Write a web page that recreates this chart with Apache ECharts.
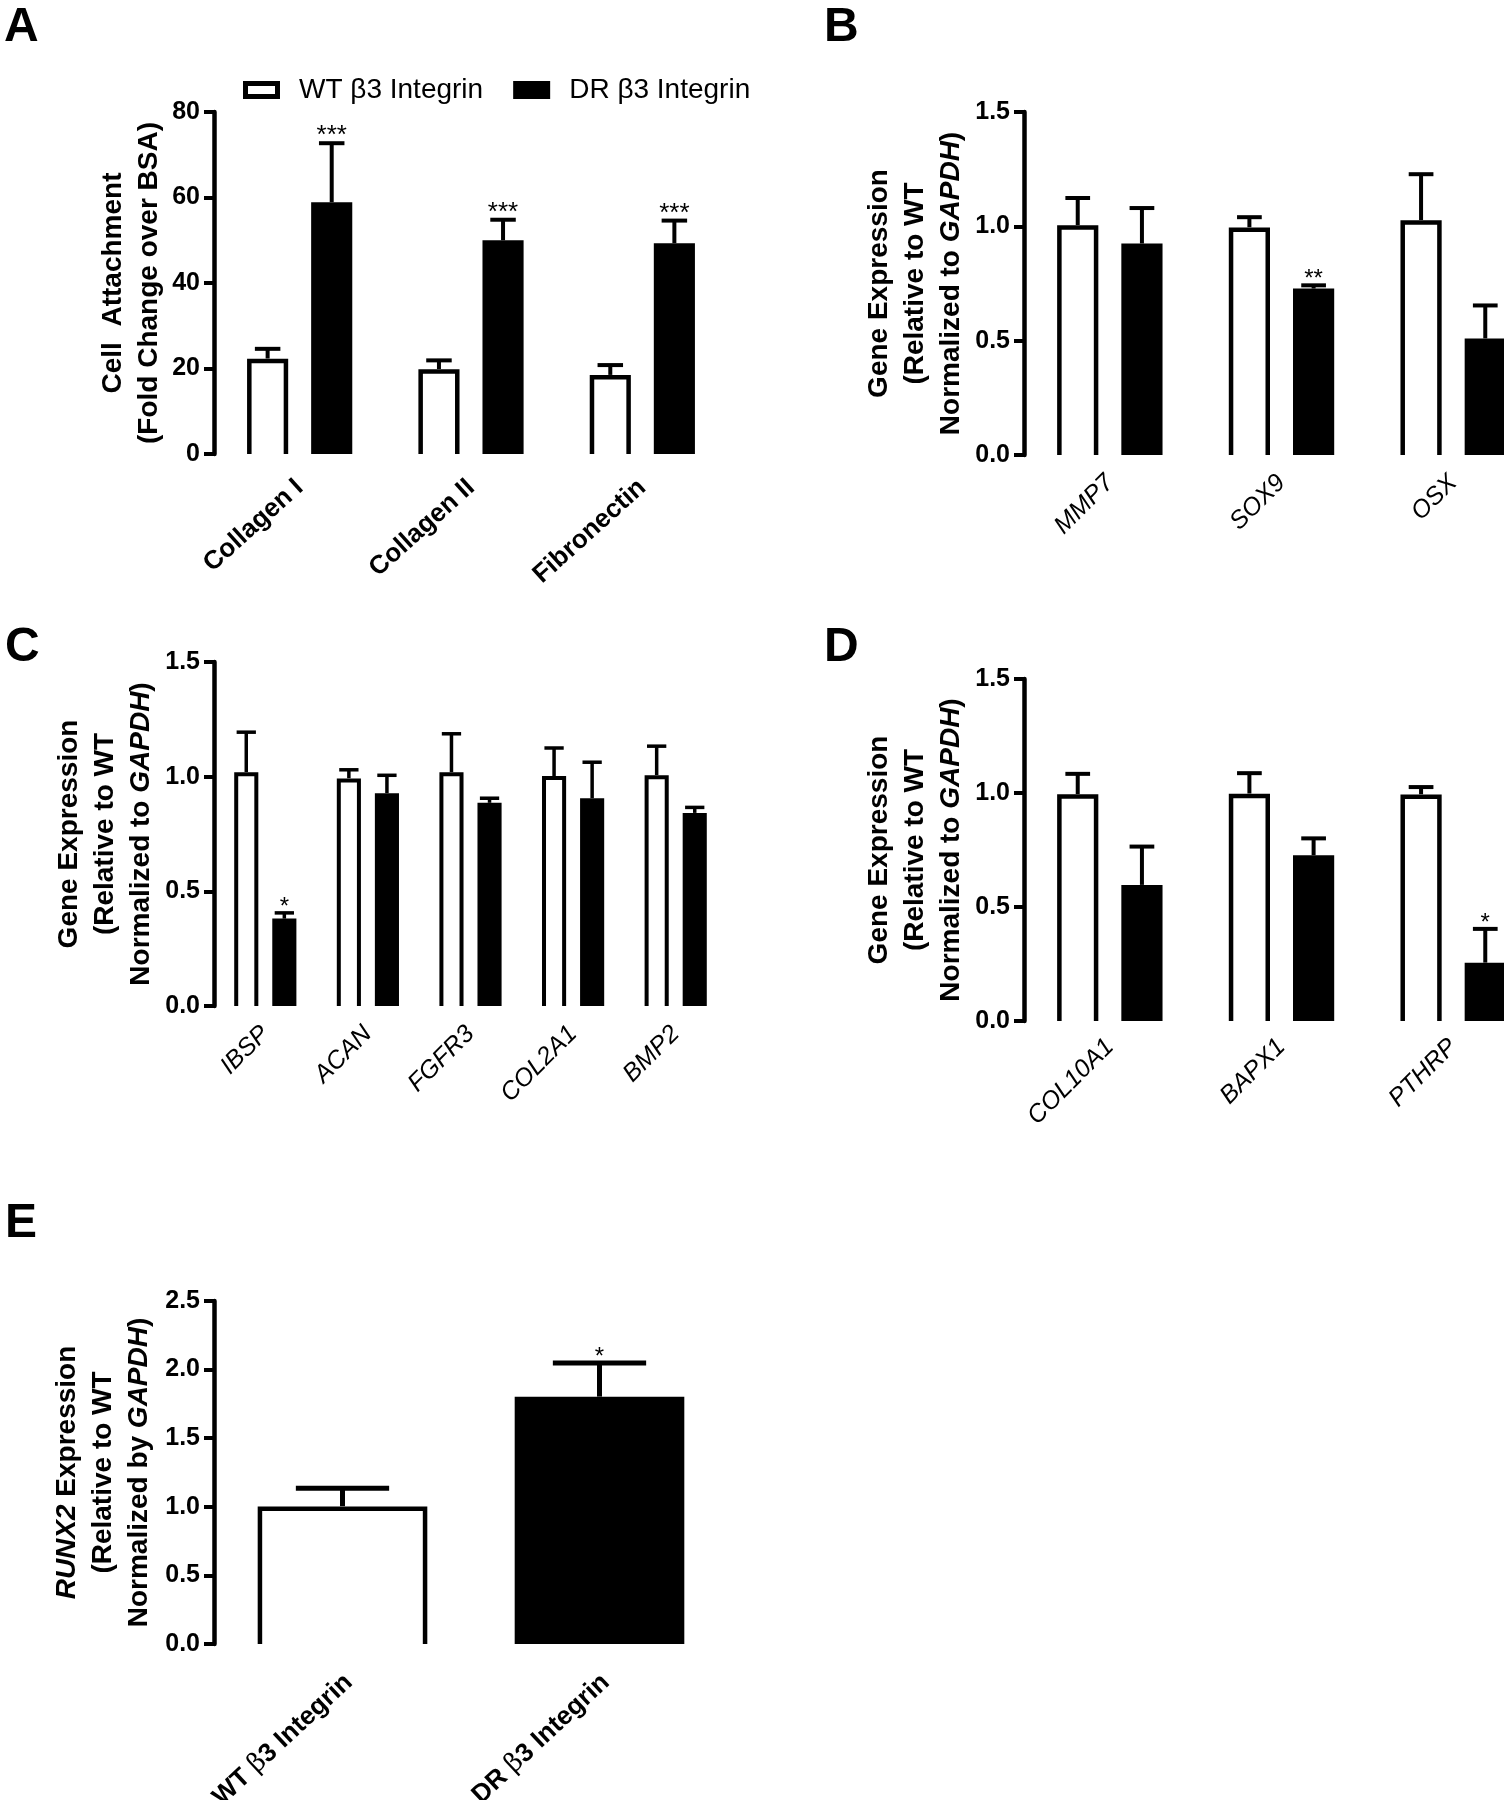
<!DOCTYPE html>
<html><head><meta charset="utf-8">
<script src="https://cdn.jsdelivr.net/npm/echarts@6/dist/echarts.min.js"></script>
<style>html,body{margin:0;padding:0;background:#fff}#c{width:1504px;height:1800px}</style>
</head><body><div id="c"></div>
<script>
// ---------- Panel A ----------
const catA = ['Collagen I', 'Collagen II', 'Fibronectin'];
const wtA = [22.3, 19.8, 18.5];
const wtErrA = [2.3, 2.1, 2.3];
const drA = [58.9, 50.0, 49.3];
const drErrA = [13.8, 4.8, 5.3];
const sigA = ['***', '***', '***'];
const ticksA = ['0', '20', '40', '60', '80'];

// ---------- Panel B ----------
const catB = ['MMP7', 'SOX9', 'OSX'];
const wtB = [1.005, 0.995, 1.027];
const wtErrB = [0.119, 0.045, 0.201];
const drB = [0.925, 0.728, 0.51];
const drErrB = [0.155, 0.014, 0.144];
const sigB = ['', '**', ''];

// ---------- Panel C ----------
const catC = ['IBSP', 'ACAN', 'FGFR3', 'COL2A1', 'BMP2'];
const wtC = [1.019, 0.992, 1.019, 1.003, 1.006];
const wtErrC = [0.175, 0.038, 0.168, 0.122, 0.127];
const drC = [0.381, 0.928, 0.886, 0.906, 0.842];
const drErrC = [0.025, 0.078, 0.02, 0.157, 0.024];
const sigC = ['*', '', '', '', ''];

// ---------- Panel D ----------
const catD = ['COL10A1', 'BAPX1', 'PTHRP'];
const wtD = [0.994, 0.997, 0.993];
const wtErrD = [0.09, 0.09, 0.033];
const drD = [0.597, 0.727, 0.256];
const drErrD = [0.168, 0.074, 0.148];
const sigD = ['', '', '*'];

const ticksGene = ['0.0', '0.5', '1.0', '1.5'];

// ---------- Panel E ----------
const catE = ['WT β3 Integrin', 'DR β3 Integrin'];
const valE = [1.003, 1.803];
const errE = [0.133, 0.246];
const sigE = ['', '*'];
const ticksE = ['0.0', '0.5', '1.0', '1.5', '2.0', '2.5'];

const seriesNames = ['WT β3 Integrin', 'DR β3 Integrin'];

// ---------- helpers ----------
const FONT = "'Liberation Sans', Arial, Helvetica, sans-serif";

function rows(vals, errs) {
  return vals.map((v, i) => [i, v, errs[i]]);
}

function barRenderer(side, filled, sig, o) {
  return function (params, api) {
    const i = api.value(0), v = api.value(1), e = api.value(2);
    const band = api.size([1, 0])[0];
    const bw = band * o.barFrac;
    const gap = band * o.gapFrac;
    const p0 = api.coord([i, 0]);
    const p1 = api.coord([i, v]);
    const p2 = api.coord([i, v + e]);
    const cx = p0[0] + side * (bw + gap) / 2;
    const lw = o.lw, elw = o.elw;
    const capW = bw * o.capFrac;
    const ch = [];
    ch.push({ type: 'line', shape: { x1: cx, y1: p1[1], x2: cx, y2: p2[1] }, style: { stroke: '#000', lineWidth: elw } });
    ch.push({ type: 'line', shape: { x1: cx - capW / 2, y1: p2[1], x2: cx + capW / 2, y2: p2[1] }, style: { stroke: '#000', lineWidth: elw } });
    if (filled) {
      ch.push({ type: 'rect', shape: { x: cx - bw / 2, y: p1[1], width: bw, height: p0[1] - p1[1] }, style: { fill: '#000' } });
    } else {
      ch.push({ type: 'rect', shape: { x: cx - bw / 2, y: p1[1], width: bw, height: p0[1] - p1[1] }, style: { fill: '#fff' } });
      ch.push({ type: 'polyline', shape: { points: [
        [cx - bw / 2 + lw / 2, p0[1]], [cx - bw / 2 + lw / 2, p1[1] + lw / 2],
        [cx + bw / 2 - lw / 2, p1[1] + lw / 2], [cx + bw / 2 - lw / 2, p0[1]]] },
        style: { stroke: '#000', fill: null, lineWidth: lw, lineJoin: 'miter' } });
    }
    const s = sig[params.dataIndex];
    if (s) {
      ch.push({ type: 'text', style: { text: s, x: cx, y: p2[1] + o.starDy, align: 'center', verticalAlign: 'bottom',
        fontSize: o.starSize, fontFamily: FONT, fill: '#000' } });
    }
    return { type: 'group', children: ch };
  };
}

function yAxisCfg(gi, min, max, interval, labels, nameRich, nameGap) {
  return {
    type: 'value', gridIndex: gi, min: min, max: max, interval: interval,
    axisLine: { show: true, lineStyle: { color: '#000', width: 4.5 } },
    axisTick: { show: true, length: 10, lineStyle: { color: '#000', width: 4 } },
    splitLine: { show: false },
    axisLabel: { color: '#000', fontSize: 25, fontWeight: 'bold', fontFamily: FONT, margin: 14,
      formatter: v => labels[Math.round((v - min) / interval)] },
    name: nameRich, nameLocation: 'middle', nameRotate: 90, nameGap: nameGap,
    nameTextStyle: { color: '#000', fontFamily: FONT, rich: {
      b: { fontSize: 28, fontWeight: 'bold', fontFamily: FONT, lineHeight: 36, color: '#000' },
      bi: { fontSize: 28, fontWeight: 'bold', fontStyle: 'italic', fontFamily: FONT, lineHeight: 36, color: '#000' }
    } }
  };
}

function xAxisCfg(gi, cats, italic, bold, rotate, margin, size) {
  return {
    type: 'category', gridIndex: gi, data: cats,
    axisLine: { show: false }, axisTick: { show: false }, splitLine: { show: false },
    axisLabel: { color: '#000', fontSize: size, fontWeight: bold ? 'bold' : 'normal',
      fontStyle: italic ? 'italic' : 'normal', fontFamily: FONT, rotate: rotate, margin: margin,
      padding: [18, 0, 0, 0], interval: 0 }
  };
}

const geneName = '{b|Gene Expression}\n{b|(Relative to WT}\n{b|Normalized to }{bi|GAPDH}{b|)}';

const optA = { barFrac: 0.24, gapFrac: 0.134, lw: 4.5, elw: 4, capFrac: 0.62, starDy: 6, starSize: 26 };
const optB = { barFrac: 0.24, gapFrac: 0.134, lw: 4.5, elw: 4, capFrac: 0.6, starDy: 6, starSize: 24 };
const optC = { barFrac: 0.235, gapFrac: 0.136, lw: 4, elw: 3.5, capFrac: 0.8, starDy: 6, starSize: 24 };
const optE = { barFrac: 0.66, gapFrac: 0, lw: 4.5, elw: 5, capFrac: 0.55, starDy: 6, starSize: 24 };

function pair(gi, wt, wtE, dr, drE, sig, o) {
  return [
    { type: 'custom', name: seriesNames[0], xAxisIndex: gi, yAxisIndex: gi, data: rows(wt, wtE),
      encode: { x: 0, y: 1 }, renderItem: barRenderer(-1, false, wt.map(() => ''), o), itemStyle: { color: '#000' } },
    { type: 'custom', name: seriesNames[1], xAxisIndex: gi, yAxisIndex: gi, data: rows(dr, drE),
      encode: { x: 0, y: 1 }, renderItem: barRenderer(1, true, sig, o), itemStyle: { color: '#000' } }
  ];
}

const letter = (t, x, y) => ({ type: 'text', left: x, top: y, style: { text: t, fontSize: 48, fontWeight: 'bold', fontFamily: FONT, fill: '#000' } });

const gridBox = (l, t, w, h) => ({ left: l, top: t, width: w, height: h, containLabel: false, outerBoundsMode: 'none' });

const option = {
  backgroundColor: '#fff',
  animation: false,
  legend: {
    left: 238, top: 71, itemWidth: 37, itemHeight: 18, itemGap: 30,
    textStyle: { fontSize: 28, fontFamily: FONT, color: '#000', padding: [0, 0, 0, 14] },
    data: [
      { name: seriesNames[0], icon: 'path://M0,0H37V18H0Z M5,5V13H32V5Z', itemStyle: { color: '#000' } },
      { name: seriesNames[1], icon: 'rect', itemStyle: { color: '#000' } }
    ]
  },
  grid: [
    gridBox(214, 112, 514, 342),
    gridBox(1024, 112, 515, 343),
    gridBox(214, 662, 513, 344),
    gridBox(1024, 679, 515, 342),
    gridBox(214, 1301, 514, 343)
  ],
  xAxis: [
    xAxisCfg(0, catA, false, true, 42, 30, 26),
    xAxisCfg(1, catB, true, false, 45, 24, 25),
    xAxisCfg(2, catC, true, false, 45, 24, 25),
    xAxisCfg(3, catD, true, false, 45, 22, 25),
    Object.assign(xAxisCfg(4, catE, false, true, 43, 28, 26), {
      axisLabel: { color: '#000', fontSize: 26, fontFamily: FONT, rotate: 43, margin: 28, interval: 0,
        padding: [18, 0, 0, 0],
        formatter: v => { const p = v.split('β'); return '{b|' + p[0] + '}{g|β}{b|' + p[1] + '}'; },
        rich: { b: { fontSize: 26, fontWeight: 'bold', fontFamily: FONT, color: '#000' },
                g: { fontSize: 26, fontWeight: 'normal', fontFamily: "'DejaVu Serif', serif", color: '#000' } } }
    })
  ],
  yAxis: [
    yAxisCfg(0, 0, 80, 20, ticksA, '{b|Cell  Attachment}\n{b|(Fold Change over BSA)}', 47),
    yAxisCfg(1, 0, 1.5, 0.5, ticksGene, geneName, 55),
    yAxisCfg(2, 0, 1.5, 0.5, ticksGene, geneName, 55),
    yAxisCfg(3, 0, 1.5, 0.5, ticksGene, geneName, 55),
    yAxisCfg(4, 0, 2.5, 0.5, ticksE, '{bi|RUNX2}{b| Expression}\n{b|(Relative to WT}\n{b|Normalized by }{bi|GAPDH}{b|)}', 57)
  ],
  series: [].concat(
    pair(0, wtA, wtErrA, drA, drErrA, sigA, optA),
    pair(1, wtB, wtErrB, drB, drErrB, sigB, optB),
    pair(2, wtC, wtErrC, drC, drErrC, sigC, optC),
    pair(3, wtD, wtErrD, drD, drErrD, sigD, optB),
    [
      { type: 'custom', name: seriesNames[0], xAxisIndex: 4, yAxisIndex: 4, data: [[0, valE[0], errE[0]]],
        encode: { x: 0, y: 1 }, renderItem: barRenderer(0, false, [sigE[0]], optE), itemStyle: { color: '#000' } },
      { type: 'custom', name: seriesNames[1], xAxisIndex: 4, yAxisIndex: 4, data: [[1, valE[1], errE[1]]],
        encode: { x: 0, y: 1 }, renderItem: barRenderer(0, true, [sigE[1]], optE), itemStyle: { color: '#000' } }
    ]
  ),
  graphic: [
    letter('A', 4, 4), letter('B', 824, 4), letter('C', 5, 624), letter('D', 824, 624), letter('E', 5, 1200)
  ]
};

const chart = echarts.init(document.getElementById('c'), null, { renderer: 'canvas' });
chart.setOption(option);
</script>
</body></html>
